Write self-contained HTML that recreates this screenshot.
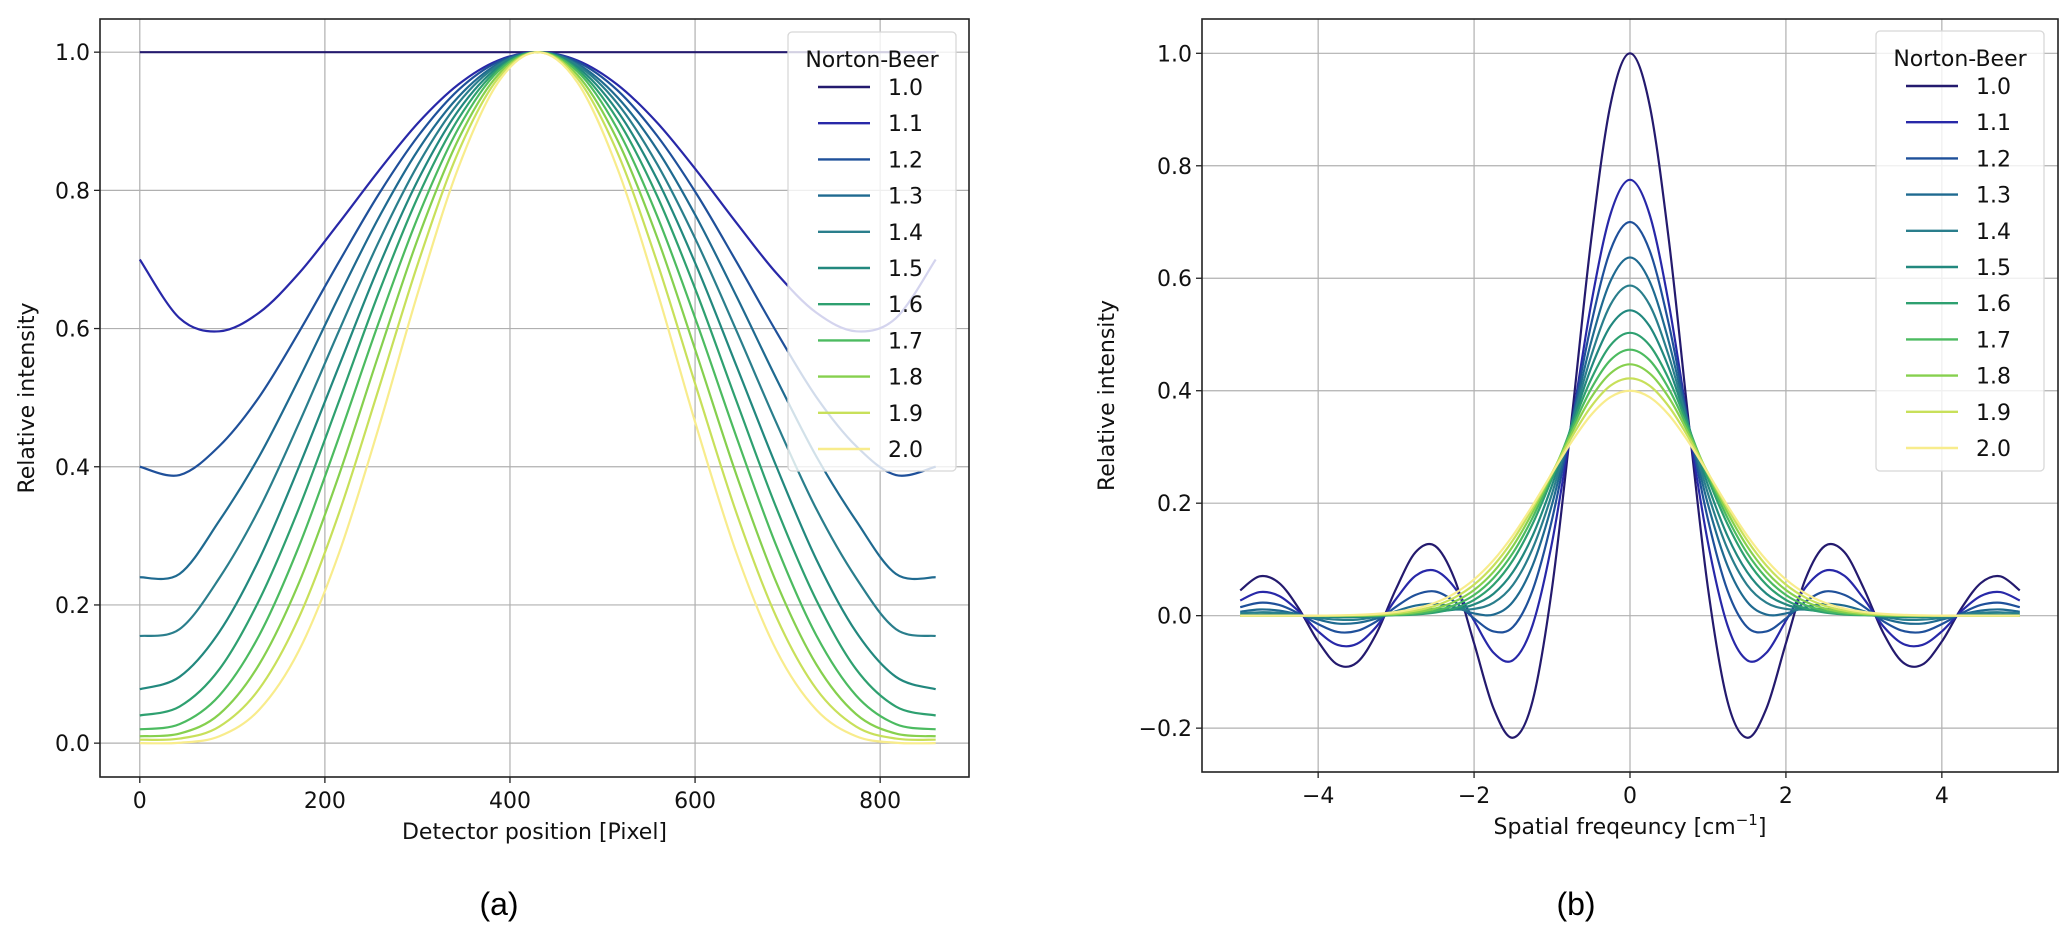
<!DOCTYPE html>
<html><head><meta charset="utf-8"><style>
html,body{margin:0;padding:0;background:#fff;}
svg{display:block;font-family:"DejaVu Sans","Liberation Sans",sans-serif;}
</style></head><body>
<svg id="fig" width="2067" height="937" viewBox="0 0 2067 937" xmlns="http://www.w3.org/2000/svg">
<g id="pa"></g>
<g id="pb"></g>
<text x="499" y="915" font-size="32" text-anchor="middle" font-family="Liberation Sans, sans-serif">(a)</text>
<text x="1576" y="915" font-size="32" text-anchor="middle" font-family="Liberation Sans, sans-serif">(b)</text>
</svg>
<script>
const params = ["1.0","1.1","1.2","1.3","1.4","1.5","1.6","1.7","1.8","1.9","2.0"];
const colors = ["#241a6e","#2828a8","#1f509a","#1f6a90","#2a7e8c","#22887e","#2ea070","#4cbb60","#86d04e","#c8e05a","#f8ec8c"];
// ---- panel (a) data: detector positions (left half, mirrored about 430) & relative intensity
const xPix = [0,43,86,129,172,215,258,301,344,387,430];
const aVals = [
 [1,1,1,1,1,1,1,1,1,1,1],
 [0.70,0.615,0.596,0.623,0.680,0.7525,0.828,0.898,0.953,0.988,1],
 [0.40,0.388,0.43,0.501,0.595,0.696,0.794,0.879,0.945,0.986,1],
 [0.24,0.245,0.322,0.415,0.527,0.646,0.760,0.859,0.935,0.983,1],
 [0.155,0.165,0.239,0.339,0.463,0.596,0.725,0.838,0.926,0.981,1],
 [0.078,0.096,0.161,0.266,0.400,0.545,0.689,0.816,0.915,0.978,1],
 [0.04,0.053,0.107,0.207,0.340,0.494,0.651,0.792,0.903,0.975,1],
 [0.02,0.0275,0.069,0.156,0.285,0.442,0.608,0.763,0.889,0.972,1],
 [0.01,0.0138,0.042,0.114,0.232,0.387,0.562,0.732,0.873,0.967,1],
 [0.005,0.0066,0.024,0.0785,0.182,0.332,0.512,0.696,0.855,0.962,1],
 [0.0,0.0006,0.010,0.0483,0.134,0.274,0.456,0.654,0.832,0.956,1]
];
const aXTicks = [0,200,400,600,800];
const aYTicks = [0.0,0.2,0.4,0.6,0.8,1.0];
// ---- panel (b) data: spatial frequency (half, mirrored about 0)
const xFreq = [0,0.25,0.5,0.75,1,1.25,1.5,1.75,2,2.25,2.5,2.75,3,3.25,3.5,3.75,4,4.25,4.5,4.75,5];
const bVals = [
 [1,0.909,0.666,0.348,0.049,-0.152,-0.217,-0.165,-0.049,0.065,0.124,0.113,0.048,-0.031,-0.083,-0.087,-0.046,0.013,0.058,0.070,0.045],
 [0.775,0.714,0.553,0.338,0.130,-0.017,-0.079,-0.066,-0.009,0.050,0.080,0.071,0.030,-0.019,-0.050,-0.052,-0.028,0.008,0.035,0.042,0.027],
 [0.700,0.650,0.517,0.341,0.171,0.045,-0.020,-0.028,-0.005,0.025,0.043,0.037,0.016,-0.010,-0.027,-0.029,-0.015,0.004,0.019,0.023,0.015],
 [0.637,0.595,0.486,0.340,0.198,0.089,0.025,0.002,0.004,0.015,0.021,0.018,0.008,-0.005,-0.013,-0.014,-0.007,0.002,0.009,0.011,0.007],
 [0.587,0.553,0.461,0.339,0.217,0.119,0.055,0.023,0.012,0.011,0.012,0.009,0.004,-0.002,-0.007,-0.007,-0.004,0.001,0.005,0.006,0.004],
 [0.543,0.515,0.440,0.337,0.232,0.142,0.078,0.039,0.020,0.011,0.0075,0.0045,0.0015,-0.001,-0.0025,-0.0026,-0.0014,0.0004,0.0017,0.002,0.0014],
 [0.503,0.481,0.420,0.335,0.244,0.163,0.099,0.055,0.028,0.013,0.0055,0.0021,0.0008,0,0,0,0,0,0,0,0],
 [0.473,0.4545,0.403,0.330,0.250,0.174,0.112,0.067,0.0367,0.0186,0.0087,0.0038,0.0015,0.0005,0,0,0,0,0,0,0],
 [0.447,0.431,0.3875,0.324,0.2527,0.1834,0.124,0.078,0.0457,0.0249,0.0126,0.006,0.0026,0.001,0,0,0,0,0,0,0],
 [0.422,0.409,0.3716,0.317,0.254,0.191,0.1345,0.089,0.0552,0.0322,0.0176,0.009,0.0043,0.002,0.0008,0,0,0,0,0,0],
 [0.400,0.3887,0.3568,0.309,0.2534,0.196,0.143,0.0987,0.0644,0.0396,0.023,0.0126,0.0066,0.0032,0.0015,0.0006,0,0,0,0,0]
];
const bXTicks = [-4,-2,0,2,4];
const bYTicks = [-0.2,0.0,0.2,0.4,0.6,0.8,1.0];

const NS="http://www.w3.org/2000/svg";
function mk(parent,tag,attrs){const e=document.createElementNS(NS,tag);for(const k in attrs)e.setAttribute(k,attrs[k]);parent.appendChild(e);return e;}
function fmtTick(v,dec){let s=v.toFixed(dec);if(v<0)s="\u2212"+Math.abs(v).toFixed(dec);return s;}
function crPath(pts){
  let d="M"+pts[0][0].toFixed(2)+","+pts[0][1].toFixed(2);
  for(let i=0;i<pts.length-1;i++){
    const p0=pts[Math.max(0,i-1)],p1=pts[i],p2=pts[i+1],p3=pts[Math.min(pts.length-1,i+2)];
    const c1=[p1[0]+(p2[0]-p0[0])/6,p1[1]+(p2[1]-p0[1])/6];
    const c2=[p2[0]-(p3[0]-p1[0])/6,p2[1]-(p3[1]-p1[1])/6];
    d+="C"+c1[0].toFixed(2)+","+c1[1].toFixed(2)+" "+c2[0].toFixed(2)+","+c2[1].toFixed(2)+" "+p2[0].toFixed(2)+","+p2[1].toFixed(2);
  }
  return d;
}

function panel(g,cfg){
  const {L,R,T,B,xmin,xmax,ymin,ymax}=cfg;
  const sx=v=>L+(v-xmin)/(xmax-xmin)*(R-L);
  const sy=v=>B-(v-ymin)/(ymax-ymin)*(B-T);
  cfg.xticks.forEach(t=>{
    const l=mk(g,"line",{x1:sx(t),x2:sx(t),y1:T,y2:B,stroke:"#b0b0b0","stroke-width":1.2});
    
    
  });
  cfg.yticks.forEach(t=>{
    const l=mk(g,"line",{x1:L,x2:R,y1:sy(t),y2:sy(t),stroke:"#b0b0b0","stroke-width":1.2});
    
    
  });
  cfg.series.forEach((vals,i)=>{
    const pts=cfg.points(vals).map(p=>[sx(p[0]),sy(p[1])]);
    const p=mk(g,"path",{d:crPath(pts),fill:"none",stroke:colors[i],"stroke-width":2.2,"stroke-linejoin":"round"});
    
    
  });
  const fr=mk(g,"rect",{x:L,y:T,width:R-L,height:B-T,fill:"none",stroke:"#222","stroke-width":1.6});
  
  
  cfg.xticks.forEach(t=>{
    mk(g,"line",{x1:sx(t),x2:sx(t),y1:B,y2:B+6,stroke:"#222","stroke-width":1.3});
    const tx=mk(g,"text",{x:sx(t),y:B+31,"font-size":22,"text-anchor":"middle",fill:"#111"});
    tx.textContent=cfg.xfmt(t);
    
    
  });
  cfg.yticks.forEach(t=>{
    mk(g,"line",{x1:L-6,x2:L,y1:sy(t),y2:sy(t),stroke:"#222","stroke-width":1.3});
    const tx=mk(g,"text",{x:L-10,y:sy(t)+8,"font-size":22,"text-anchor":"end",fill:"#111"});
    tx.textContent=fmtTick(t,1);
    
    
  });
  const xl=mk(g,"text",{x:(L+R)/2,y:B+62,"font-size":22,"text-anchor":"middle",fill:"#111"});
  xl.innerHTML=cfg.xlabel;
  
  
  const yl=mk(g,"text",{x:cfg.ylx,y:(T+B)/2,"font-size":22,"text-anchor":"middle",fill:"#111",transform:"rotate(-90 "+cfg.ylx+" "+((T+B)/2)+")"});
  yl.textContent="Relative intensity";
  
  
  const lg=mk(g,"g",{});
  
  
  const lb=cfg.legend;
  mk(lg,"rect",{x:lb.x,y:lb.y,width:lb.w,height:lb.h,rx:4,fill:"#fff","fill-opacity":0.8,stroke:"#d8d8d8","stroke-width":1.3});
  const tt=mk(lg,"text",{x:lb.x+lb.w/2,y:lb.y+35,"font-size":22,"text-anchor":"middle",fill:"#111"});
  tt.textContent="Norton-Beer";
  
  
  params.forEach((p,i)=>{
    const y=lb.y+55+i*36.2;
    const e=mk(lg,"g",{});
    
    
    mk(e,"line",{x1:lb.lx,x2:lb.lx+52,y1:y,y2:y,stroke:colors[i],"stroke-width":2.4});
    const t=mk(e,"text",{x:lb.lx+70,y:y+8,"font-size":22,fill:"#111"});
    t.textContent=p;
  });
}

panel(document.getElementById("pa"),{
  L:100,R:969,T:19,B:777,xmin:-43,xmax:896,ymin:-0.049,ymax:1.048,
  xticks:aXTicks,yticks:aYTicks,xfmt:t=>String(t),
  series:aVals,points:vals=>{
    const c=xPix[xPix.length-1];
    const left=xPix.map((x,j)=>[x,vals[j]]);
    const right=xPix.slice(0,-1).reverse().map((x,j)=>[2*c-x,vals[xPix.length-2-j]]);
    return left.concat(right);
  },
  xlabel:"Detector position [Pixel]",ylx:34,
  legend:{x:788,y:32,w:168,h:439,lx:818}
});
panel(document.getElementById("pb"),{
  L:1202,R:2058,T:19,B:772,xmin:-5.49,xmax:5.49,ymin:-0.278,ymax:1.061,
  xticks:bXTicks,yticks:bYTicks,xfmt:t=>fmtTick(t,0),
  series:bVals,points:vals=>{
    const left=xFreq.slice(1).reverse().map((x,j)=>[-x,vals[xFreq.length-1-j]]);
    return left.concat(xFreq.map((x,j)=>[x,vals[j]]));
  },
  xlabel:'Spatial freqeuncy [cm<tspan font-size="15" dy="-9">\u22121</tspan><tspan dy="9">]</tspan>',ylx:1114,
  legend:{x:1876,y:31,w:168,h:440,lx:1906}
});
</script>
</body></html>
